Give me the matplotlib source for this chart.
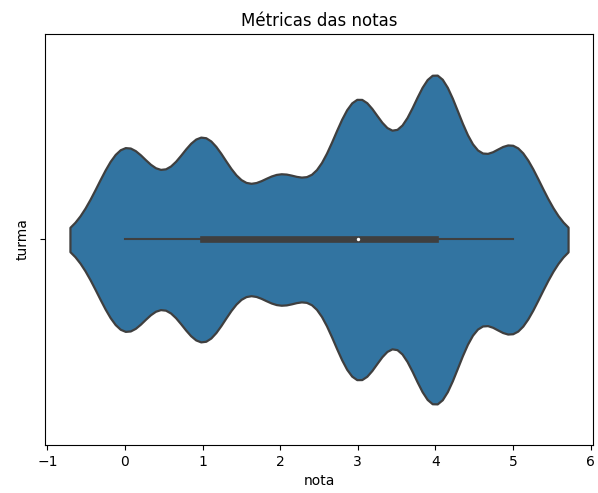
import numpy as np
import matplotlib
matplotlib.use("Agg")
import matplotlib.pyplot as plt
import seaborn as sns

notas_valores = [0, 1, 2, 3, 4, 5]
contagens = [307, 340, 209, 465, 548, 311]

notas = np.repeat(notas_valores, contagens)

fig = plt.figure(figsize=(5.98, 4.93), dpi=100)
ax = fig.add_axes([0.0753, 0.0974, 0.9163, 0.8336])

sns.violinplot(x=notas, color="#3274a1", saturation=1, inner=None,
               linewidth=1.6, ax=ax)
for c in ax.collections:
    c.set_edgecolor("#3f3f3f")

# caixa interna
q1, med, q3 = np.percentile(notas, [25, 50, 75])
ax.plot([notas.min(), notas.max()], [0, 0], color="#3f3f3f", lw=1.5, zorder=3)
ax.plot([q1, q3], [0, 0], color="#3f3f3f", lw=4.8, zorder=3)
ax.scatter([med], [0], s=6, color="white", linewidths=0, zorder=4)

ax.set_ylim(0.5, -0.5)
ax.set_yticks([0])
ax.set_yticklabels([""])
ax.set_xticks([-1, 0, 1, 2, 3, 4, 5, 6])
ax.set_title("Métricas das notas")
ax.set_xlabel("nota")
ax.set_ylabel("turma")

fig.savefig("out.png", dpi=100)
